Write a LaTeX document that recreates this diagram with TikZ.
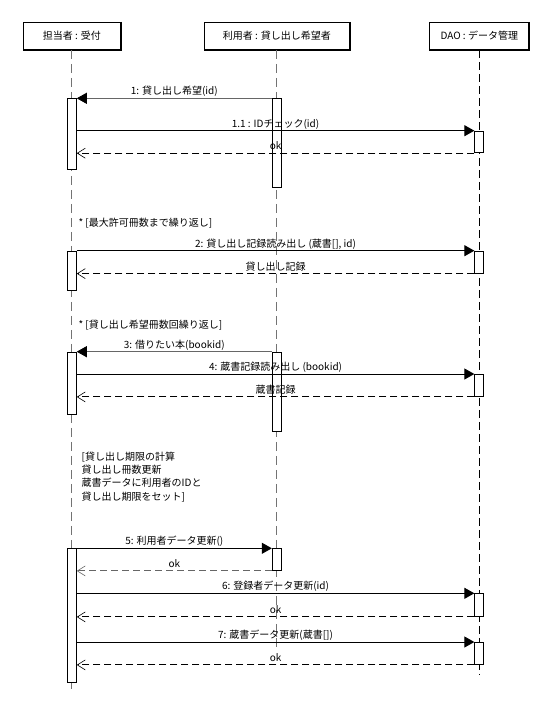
\documentclass[tikz,border=0pt]{standalone}
\usepackage{fontspec}
\setmainfont{Noto Sans CJK JP}
\usetikzlibrary{arrows.meta}
\begin{document}
\begin{tikzpicture}[x=1pt,y=-1pt,
  every node/.style={font=\fontsize{10}{13.3}\selectfont},
  head/.style={draw, line width=1pt, minimum height=27pt, inner sep=0pt, fill=white},
  lifegray/.style={line width=0.8pt, draw=black!55, dash pattern=on 9pt off 5pt},
  lifeblack/.style={line width=0.9pt, draw=black, dash pattern=on 8pt off 4pt},
  act/.style={draw, fill=white, line width=0.9pt, minimum width=9pt, inner sep=0pt, anchor=north},
  call/.style={line width=0.9pt, -{Triangle[length=10pt,width=11pt,color=black]}},
  ret/.style={line width=0.9pt, dash pattern=on 7pt off 4pt, -{Straight Barb[length=8pt,width=10pt,line width=0.6pt]}},
  lbl/.style={anchor=south, inner sep=1.5pt, text height=8.5pt, text depth=1.5pt},
  txt/.style={anchor=west, inner sep=0pt},
]
\useasboundingbox (0,0) rectangle (555,713);

% headers
\node[head, minimum width=97.3pt] (h1) at (71.8,35.8) {担当者 : 受付};
\node[head, minimum width=145pt] (h2) at (276.8,35.8) {利用者 : 貸し出し希望者};
\node[head, minimum width=98.7pt] (h3) at (479.3,35.8) {DAO : データ管理};
\foreach \h in {h1,h2,h3}{
  \draw[line width=2pt] (\h.north east) -- (\h.south east) -- (\h.south west);
}

% lifelines
\coordinate (e1) at (71.8,689);
\coordinate (e2) at (276.8,651);
\coordinate (e3) at (479.3,674);
\draw[lifegray] (h1.south) -- (e1);
\draw[lifegray] (h2.south) -- (e2);
\draw[lifeblack] (h3.south) -- (e3);

% activations
\node[act, minimum height=71pt]   (a1a) at (71.8,98.3) {};
\node[act, minimum height=89pt]   (a2a) at (276.8,98.3) {};
\node[act, minimum height=21.6pt] (a3a) at (479.3,130.7) {};
\node[act, minimum height=39.3pt] (a1b) at (71.8,250.7) {};
\node[act, minimum height=22pt]   (a3b) at (479.3,250.7) {};
\node[act, minimum height=79pt]   (a2c) at (276.8,351.7) {};
\node[act, minimum height=62.3pt] (a1c) at (71.8,351.7) {};
\node[act, minimum height=22pt]   (a3c) at (479.3,374) {};
\node[act, minimum height=133.4pt] (a1d) at (71.8,548.3) {};
\node[act, minimum height=21.7pt] (a2d) at (276.8,548.3) {};
\node[act, minimum height=22.7pt] (a3d) at (479.3,593.3) {};
\node[act, minimum height=22pt]   (a3e) at (479.3,642) {};

% sequence 1
\draw[call, draw=black!60] (a2a.north west) -- node[lbl]{1: 貸し出し希望(id)} (a1a.north east);
\draw[call] (a1a.east |- a3a.north) -- node[lbl]{1.1 : IDチェック(id)} (a3a.north west);
\draw[ret] (a3a.south west) -- node[lbl]{ok} (a1a.east |- a3a.south);

% loop 1
\node[txt] (loop1) at (78.3,223.3) {* [最大許可冊数まで繰り返し]};
\draw[call] (a1b.north east) -- node[lbl]{2: 貸し出し記録読み出し (蔵書[], id)} (a3b.north west);
\draw[ret] (a3b.south west) -- node[lbl]{貸し出し記録} (a1b.east |- a3b.south);

% loop 2
\node[txt] (loop2) at (78.3,325) {* [貸し出し希望冊数回繰り返し]};
\draw[call, draw=black!60] (a2c.north west) -- node[lbl]{3: 借りたい本(bookid)} (a1c.north east);
\draw[call] (a1c.east |- a3c.north) -- node[lbl]{4: 蔵書記録読み出し (bookid)} (a3c.north west);
\draw[ret] (a3c.south west) -- node[lbl]{蔵書記録} (a1c.east |- a3c.south);

% note
\node[anchor=north west, inner sep=0pt, align=left] (note) at (81.5,451.5)
  {[貸し出し期限の計算\\貸し出し冊数更新\\蔵書データに利用者のIDと\\貸し出し期限をセット]};

% updates
\draw[call] (a1d.north east) -- node[lbl]{5: 利用者データ更新()} (a2d.north west);
\draw[ret, draw=black!60] (a2d.south west) -- node[lbl]{ok} (a1d.east |- a2d.south);
\draw[call] (a1d.east |- a3d.north) -- node[lbl]{6: 登録者データ更新(id)} (a3d.north west);
\draw[ret] (a3d.south west) -- node[lbl]{ok} (a1d.east |- a3d.south);
\draw[call] (a1d.east |- a3e.north) -- node[lbl]{7: 蔵書データ更新(蔵書[])} (a3e.north west);
\draw[ret] (a3e.south west) -- node[lbl]{ok} (a1d.east |- a3e.south);
\end{tikzpicture}
\end{document}
